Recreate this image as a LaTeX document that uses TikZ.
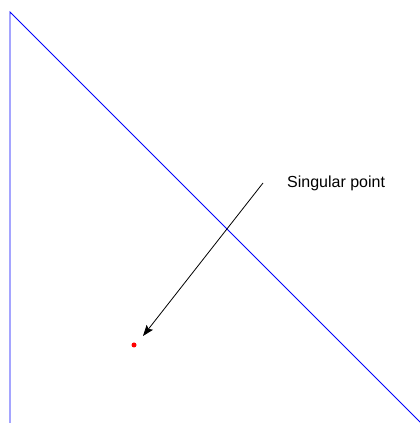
\documentclass[tikz,border=0pt]{standalone}
\usepackage{fontspec}
\setmainfont{Liberation Sans}
\usetikzlibrary{arrows.meta}
\begin{document}
\begin{tikzpicture}[x=1pt,y=1pt,
  bluel/.style={draw={rgb,255:red,0;green,0;blue,255}, line width=0.9pt},
  arrowl/.style={draw=black, line width=0.8pt, -{Stealth[length=11pt,width=8pt,inset=2pt]}},
  lbl/.style={anchor=base west, inner sep=0pt, font=\fontsize{16}{19}\selectfont}]
\useasboundingbox (0,0) rectangle (420,423);
\fill[white] (0,0) rectangle (420,423);
\coordinate (top) at (10,411);
\coordinate (bot) at (10,0);
\coordinate (diagend) at (421,0);
\draw[bluel] (bot) -- (top) -- (diagend);
\node[circle, fill=red, inner sep=0pt, minimum size=5pt] (sp) at (134,78) {};
\coordinate (astart) at (263,240);
\coordinate (atip) at (143,87);
\draw[arrowl] (astart) -- (atip);
\node[lbl] (label) at (287,235.5) {Singular point};
\end{tikzpicture}
\end{document}
